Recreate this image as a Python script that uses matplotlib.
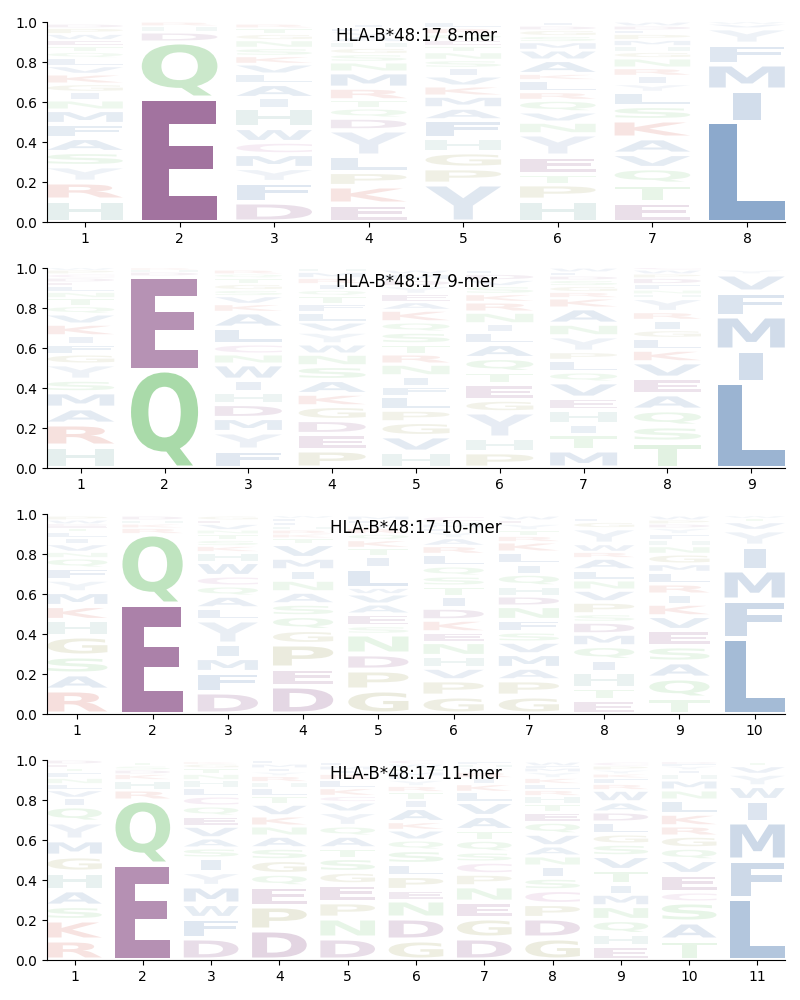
import matplotlib
matplotlib.use("Agg")
import matplotlib.pyplot as plt
from matplotlib.textpath import TextPath
from matplotlib.patches import PathPatch
from matplotlib.font_manager import FontProperties
from matplotlib.transforms import Affine2D

ALLELE = "HLA-B*48:17"
LENGTHS = [8, 9, 10, 11]

# letter frequencies per position, listed bottom -> top of each stack
LOGO_8MER = [
    [("H", .11), ("R", .09), ("Y", .08), ("S", .07), ("A", .07), ("F", .07), ("M", .07), ("N", .05), ("I", .04),
     ("G", .04), ("K", .05), ("V", .04), ("L", .04), ("Q", .03), ("T", .03), ("E", .03), ("W", .03), ("P", .03), ("D", .02)],
    [("E", .62), ("Q", .28), ("D", .05), ("H", .03), ("R", .02)],
    [("D", .10), ("F", .10), ("Y", .07), ("M", .07), ("C", .06), ("W", .07), ("H", .10), ("I", .05), ("A", .07),
     ("L", .05), ("V", .05), ("K", .04), ("S", .04), ("N", .04), ("G", .03), ("T", .03), ("R", .02)],
    [("E", .09), ("K", .09), ("P", .07), ("L", .08), ("Y", .13), ("D", .06), ("Q", .05), ("T", .04), ("R", .06),
     ("M", .08), ("N", .05), ("S", .04), ("G", .03), ("H", .03), ("A", .03), ("V", .02), ("F", .02), ("I", .02)],
    [("Y", .19), ("P", .08), ("G", .08), ("H", .07), ("F", .09), ("A", .06), ("M", .06), ("K", .05), ("V", .05),
     ("I", .04), ("S", .04), ("N", .04), ("T", .03), ("E", .03), ("Q", .03), ("R", .03), ("L", .03)],
    [("H", .11), ("P", .08), ("T", .05), ("E", .09), ("Y", .11), ("N", .06), ("V", .05), ("Q", .06), ("R", .04),
     ("L", .06), ("K", .03), ("A", .07), ("W", .05), ("M", .04), ("S", .03), ("G", .03), ("D", .02), ("I", .02)],
    [("E", .10), ("T", .09), ("Q", .08), ("V", .07), ("A", .08), ("K", .09), ("S", .07), ("L", .07), ("Y", .04),
     ("I", .04), ("R", .04), ("N", .05), ("G", .03), ("H", .03), ("M", .03), ("P", .03), ("F", .02), ("D", .02), ("W", .02)],
    [("L", .50), ("I", .16), ("M", .13), ("F", .10), ("Y", .08), ("V", .02), ("W", .01)],
]

LOGO_9MER = [
    [("H", .11), ("R", .11), ("A", .08), ("M", .08), ("S", .06), ("Y", .08), ("G", .05), ("F", .05), ("I", .04),
     ("K", .06), ("V", .05), ("Q", .04), ("T", .04), ("N", .03), ("L", .03), ("E", .02), ("D", .02), ("C", .02),
     ("P", .02), ("W", .01)],
    [("Q", .49), ("E", .47), ("D", .02), ("H", .01), ("R", .01)],
    [("F", .09), ("Y", .09), ("M", .07), ("D", .07), ("H", .06), ("I", .06), ("W", .08), ("N", .05), ("C", .05),
     ("L", .08), ("A", .08), ("K", .04), ("V", .04), ("S", .03), ("G", .03), ("T", .03), ("Q", .02), ("R", .02)],
    [("P", .09), ("E", .08), ("D", .07), ("G", .07), ("K", .06), ("A", .07), ("S", .07), ("N", .06), ("W", .05),
     ("Y", .06), ("V", .05), ("L", .05), ("F", .04), ("T", .04), ("Q", .03), ("I", .03), ("R", .03), ("M", .03), ("H", .02)],
    [("H", .08), ("V", .08), ("G", .07), ("P", .06), ("L", .07), ("F", .05), ("I", .05), ("N", .06), ("R", .05),
     ("T", .05), ("S", .06), ("Q", .05), ("K", .06), ("A", .04), ("E", .04), ("Y", .04), ("D", .03), ("M", .03), ("W", .02)],
    [("P", .08), ("H", .07), ("Y", .13), ("G", .06), ("E", .08), ("T", .06), ("Q", .07), ("A", .07), ("L", .06),
     ("I", .04), ("N", .06), ("R", .05), ("K", .04), ("S", .04), ("V", .03), ("D", .03), ("F", .02)],
    [("M", .09), ("T", .08), ("I", .05), ("H", .07), ("E", .06), ("V", .08), ("Q", .05), ("L", .06), ("P", .04),
     ("Y", .08), ("N", .06), ("A", .08), ("K", .05), ("R", .03), ("G", .03), ("S", .03), ("D", .02), ("F", .02), ("W", .02)],
    [("T", .13), ("S", .08), ("Q", .08), ("A", .08), ("E", .08), ("V", .08), ("K", .06), ("L", .06), ("G", .04),
     ("I", .05), ("R", .04), ("Y", .07), ("H", .02), ("N", .02), ("F", .03), ("D", .03), ("P", .02), ("W", .02), ("C", .02)],
    [("L", .43), ("I", .16), ("M", .17), ("F", .12), ("V", .09), ("Y", .02)],
]

LOGO_10MER = [
    [("R", .12), ("A", .08), ("S", .09), ("G", .10), ("H", .08), ("K", .07), ("M", .07), ("Y", .06), ("F", .06),
     ("Q", .05), ("N", .03), ("V", .04), ("I", .03), ("L", .03), ("T", .02), ("E", .01), ("D", .01), ("W", .02), ("P", .02)],
    [("E", .55), ("Q", .35), ("R", .03), ("K", .02), ("H", .02), ("D", .02)],
    [("D", .11), ("F", .10), ("M", .07), ("I", .07), ("Y", .12), ("L", .06), ("A", .06), ("Q", .05), ("C", .05),
     ("W", .07), ("H", .05), ("K", .03), ("S", .03), ("T", .03), ("N", .02), ("V", .03), ("E", .02), ("G", .02)],
    [("D", .14), ("E", .09), ("P", .12), ("G", .07), ("Q", .07), ("S", .06), ("A", .06), ("N", .06), ("I", .05),
     ("M", .06), ("V", .07), ("T", .03), ("K", .02), ("R", .02), ("H", .02), ("F", .02), ("L", .02), ("W", .01)],
    [("G", .12), ("P", .10), ("D", .08), ("N", .10), ("S", .04), ("E", .06), ("A", .05), ("V", .05), ("W", .03),
     ("L", .10), ("I", .06), ("T", .04), ("K", .04), ("Q", .03), ("R", .03), ("Y", .02), ("F", .02), ("M", .02)],
    [("G", .09), ("P", .08), ("V", .06), ("H", .06), ("N", .07), ("E", .05), ("K", .06), ("D", .06), ("I", .06),
     ("T", .05), ("S", .05), ("Q", .05), ("L", .06), ("R", .04), ("A", .04), ("Y", .03), ("F", .02), ("M", .02),
     ("W", .01), ("C", .03)],
    [("G", .09), ("P", .08), ("A", .06), ("M", .07), ("V", .06), ("S", .05), ("F", .06), ("N", .07), ("D", .05),
     ("H", .05), ("Q", .06), ("I", .05), ("L", .06), ("K", .05), ("R", .03), ("T", .03), ("Y", .03), ("E", .02), ("W", .02)],
    [("E", .07), ("T", .06), ("H", .08), ("I", .06), ("Q", .07), ("M", .06), ("D", .06), ("S", .04), ("P", .06),
     ("V", .06), ("N", .05), ("L", .05), ("A", .06), ("R", .03), ("W", .04), ("Y", .08), ("G", .03), ("F", .02)],
    [("T", .08), ("Q", .10), ("A", .08), ("S", .08), ("E", .08), ("V", .07), ("K", .06), ("I", .05), ("R", .05),
     ("L", .06), ("M", .04), ("G", .05), ("N", .04), ("H", .03), ("F", .03), ("Y", .03), ("D", .02), ("P", .02), ("W", .02)],
    [("L", .38), ("F", .19), ("M", .15), ("I", .12), ("Y", .08), ("V", .04), ("T", .02), ("W", .01)],
]

LOGO_11MER = [
    [("R", .10), ("K", .10), ("S", .07), ("A", .08), ("H", .09), ("G", .08), ("M", .08), ("Y", .09), ("Q", .08),
     ("I", .04), ("V", .04), ("L", .03), ("N", .03), ("F", .03), ("T", .02), ("E", .02), ("D", .02)],
    [("E", .48), ("Q", .32), ("R", .05), ("H", .05), ("K", .03), ("D", .02), ("S", .02), ("T", .02)],
    [("D", .11), ("F", .10), ("W", .07), ("M", .09), ("Y", .07), ("I", .07), ("S", .05), ("A", .05), ("V", .06),
     ("E", .05), ("Q", .05), ("C", .05), ("L", .04), ("H", .04), ("N", .03), ("T", .03), ("G", .02), ("K", .01)],
    [("D", .15), ("P", .12), ("E", .10), ("Q", .06), ("G", .07), ("S", .06), ("A", .06), ("N", .05), ("K", .05),
     ("V", .06), ("T", .04), ("L", .04), ("H", .03), ("R", .03), ("Y", .02), ("I", .02), ("M", .02), ("F", .02)],
    [("D", .11), ("N", .10), ("P", .08), ("E", .09), ("G", .06), ("S", .07), ("T", .05), ("A", .06), ("Q", .05),
     ("Y", .07), ("V", .05), ("C", .03), ("K", .04), ("L", .04), ("R", .03), ("I", .02), ("M", .02), ("F", .02)],
    [("G", .10), ("D", .11), ("N", .09), ("E", .05), ("P", .07), ("L", .06), ("S", .07), ("Q", .05), ("V", .05),
     ("K", .04), ("A", .07), ("I", .04), ("T", .04), ("R", .03), ("Y", .03), ("F", .02), ("M", .02), ("H", .02),
     ("W", .02), ("C", .02)],
    [("D", .11), ("G", .10), ("E", .08), ("N", .08), ("P", .06), ("C", .06), ("S", .05), ("Q", .06), ("T", .05),
     ("A", .07), ("V", .07), ("L", .05), ("K", .04), ("I", .03), ("R", .03), ("Y", .02), ("H", .02), ("F", .01)],
    [("G", .11), ("D", .10), ("P", .07), ("C", .07), ("S", .06), ("I", .06), ("N", .05), ("A", .05), ("V", .06),
     ("Q", .06), ("E", .05), ("T", .04), ("H", .04), ("R", .03), ("L", .03), ("K", .03), ("Y", .03), ("M", .02),
     ("F", .01), ("W", .02)],
    [("E", .07), ("H", .06), ("Q", .07), ("N", .07), ("M", .06), ("I", .05), ("T", .07), ("V", .07), ("S", .06),
     ("G", .05), ("L", .06), ("D", .05), ("A", .05), ("W", .06), ("R", .03), ("F", .03), ("K", .02), ("Y", .02),
     ("P", .02), ("C", .02)],
    [("T", .10), ("A", .09), ("S", .10), ("C", .05), ("E", .09), ("V", .07), ("Q", .06), ("G", .06), ("R", .05),
     ("K", .06), ("L", .07), ("N", .05), ("M", .05), ("H", .03), ("I", .02), ("Y", .02), ("F", .01), ("D", .01)],
    [("L", .31), ("F", .19), ("M", .19), ("I", .11), ("W", .07), ("Y", .06), ("V", .04), ("T", .02)],
]

LOGOS = [LOGO_8MER, LOGO_9MER, LOGO_10MER, LOGO_11MER]


def rgb(r, g, b):
    return (r / 255, g / 255, b / 255)


PURPLE = rgb(116, 46, 112)
GREEN = rgb(97, 188, 97)
BLUE = rgb(46, 99, 162)
TEAL = rgb(95, 160, 150)
RED = rgb(205, 70, 55)
OLIVE = rgb(141, 141, 60)
PINK = rgb(175, 90, 160)
YCOL = rgb(125, 155, 195)

COLORS = {
    "D": PURPLE, "E": PURPLE,
    "Q": GREEN, "N": GREEN, "S": GREEN, "T": GREEN,
    "A": BLUE, "V": BLUE, "L": BLUE, "I": BLUE, "M": BLUE, "F": BLUE, "W": BLUE,
    "Y": YCOL, "H": TEAL,
    "K": RED, "R": RED,
    "G": OLIVE, "P": OLIVE,
    "C": PINK,
}

FP = FontProperties(family="DejaVu Sans", weight="bold")
REF_E = TextPath((0, 0), "E", size=1, prop=FP).get_extents()
WIDTH = 0.8
VSEP = 0.025


def draw_letter(ax, ch, x, y0, h):
    path = TextPath((0, 0), ch, size=1, prop=FP)
    bb = path.get_extents()
    hs = min(WIDTH / bb.width, WIDTH / REF_E.width)
    pad = min(VSEP, 0.3 * h)
    ch_h = max(h - pad, 1e-4)
    vs = ch_h / bb.height
    cw = hs * bb.width
    tr = (Affine2D().translate(-bb.x0, -bb.y0).scale(hs, vs)
          .translate(x - cw / 2, y0 + pad / 2))
    alpha = min(1.0, h + 0.05)
    ax.add_patch(PathPatch(tr.transform_path(path), facecolor=COLORS[ch],
                           edgecolor="none", alpha=alpha, lw=0))


fig = plt.figure(figsize=(8, 10), dpi=100)
bottoms = [0.778, 0.532, 0.286, 0.040]
for n, logo, b in zip(LENGTHS, LOGOS, bottoms):
    ax = fig.add_axes([0.059, b, 0.922, 0.2])
    for i, col in enumerate(logo):
        x = i + 1
        y = 0.0
        for ch, v in col:
            draw_letter(ax, ch, x, y, v)
            y += v
    ax.set_xlim(0.6, n + 0.4)
    ax.set_ylim(0, 1)
    ax.set_xticks(range(1, n + 1))
    ax.set_yticks([0, 0.2, 0.4, 0.6, 0.8, 1.0])
    ax.spines["top"].set_visible(False)
    ax.spines["right"].set_visible(False)
    ax.text(0.5, 0.93, f"{ALLELE} {n}-mer", transform=ax.transAxes,
            ha="center", va="center", fontsize=12, zorder=10)

fig.savefig("out.png", dpi=100)
